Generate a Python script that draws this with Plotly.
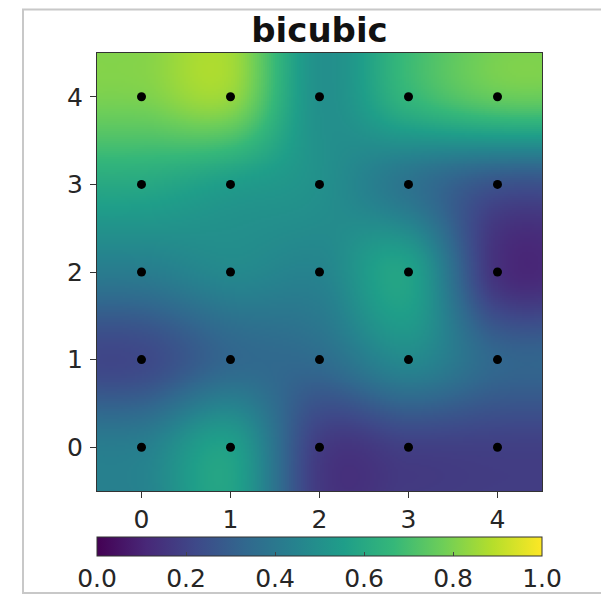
import numpy as np
import plotly.graph_objects as go

# grid values (rows: y = 0..4, cols: x = 0..4)
grid_x = [0, 1, 2, 3, 4]
grid_y = [0, 1, 2, 3, 4]
row_y0 = [0.43, 0.56, 0.18, 0.19, 0.19]
row_y1 = [0.22, 0.33, 0.35, 0.47, 0.33]
row_y2 = [0.42, 0.47, 0.45, 0.57, 0.14]
row_y3 = [0.60, 0.55, 0.50, 0.38, 0.26]
row_y4 = [0.80, 0.84, 0.50, 0.66, 0.76]
cbar_ticks = [0.0, 0.2, 0.4, 0.6, 0.8, 1.0]
title_text = "bicubic"

Z = np.array([row_y0, row_y1, row_y2, row_y3, row_y4])


def keys(t, a=-0.5):
    t = np.abs(t)
    out = np.zeros_like(t)
    m1 = t <= 1
    m2 = (t > 1) & (t < 2)
    out[m1] = (a + 2) * t[m1] ** 3 - (a + 3) * t[m1] ** 2 + 1
    out[m2] = a * t[m2] ** 3 - 5 * a * t[m2] ** 2 + 8 * a * t[m2] - 4 * a
    return out


def weights(u, n):
    W = np.zeros((len(u), n))
    base = np.floor(u).astype(int)
    for off in range(-1, 3):
        k = base + off
        w = keys(u - k)
        kc = np.clip(k, 0, n - 1)
        for i in range(len(u)):
            W[i, kc[i]] += w[i]
    return W


N = 220
fine = -0.5 + (np.arange(N) + 0.5) * 5.0 / N
Wx = weights(fine, Z.shape[1])
Wy = weights(fine, Z.shape[0])
Zf = Wy @ Z @ Wx.T

px, py = np.meshgrid(grid_x, grid_y)

# page body has an 8px margin: shift the layout accordingly
OFF = 8
L, T = 97 - OFF, 53 - OFF
PW, PH = 445, 442

fig = go.Figure()
fig.add_trace(go.Heatmap(
    x=fine, y=fine, z=Zf, zmin=0, zmax=1, colorscale="Viridis",
    colorbar=dict(
        orientation="h", x=0.5, xanchor="center", y=-46 / PH, yanchor="top",
        len=1.0, lenmode="fraction", thickness=19, xpad=0, ypad=0,
        outlinewidth=1, outlinecolor="#333",
        tickvals=cbar_ticks, ticktext=[f"{v:.1f}" for v in cbar_ticks],
        ticks="inside", ticklen=4, tickcolor="#444",
        tickfont=dict(size=25, color="#262626"),
    ),
    hoverinfo="skip",
))
fig.add_trace(go.Scatter(
    x=px.ravel(), y=py.ravel(), mode="markers",
    marker=dict(color="black", size=9), showlegend=False,
))

axis_common = dict(
    range=[-0.5, 4.5], tickvals=grid_x, ticks="outside", ticklen=6,
    tickcolor="#333", showgrid=False, zeroline=False, showline=True,
    mirror=True, linecolor="#333", linewidth=1,
    tickfont=dict(size=25, color="#262626"),
)
fig.update_xaxes(**axis_common, ticklabelstandoff=0)
fig.update_yaxes(**axis_common, ticklabelstandoff=2)

fig.add_shape(type="rect", xref="paper", yref="paper",
              x0=(23 - 97) / PW, x1=(607 - 97) / PW,
              y0=(495 - 598) / PH, y1=(495 - 9) / PH,
              line=dict(color="#c8c8c8", width=2), layer="below")

fig.update_layout(
    width=609, height=602,
    margin=dict(l=L, r=609 - L - PW, t=T, b=602 - T - PH),
    paper_bgcolor="white", plot_bgcolor="white",
    font=dict(family="DejaVu Sans", color="#262626"),
    title=dict(text=f"<b>{title_text}</b>", x=0.5, xref="paper",
               y=1 - (30 - OFF) / 602, yref="container", yanchor="middle",
               font=dict(size=34, color="#111")),
    showlegend=False,
)
fig.write_html("out.html")
